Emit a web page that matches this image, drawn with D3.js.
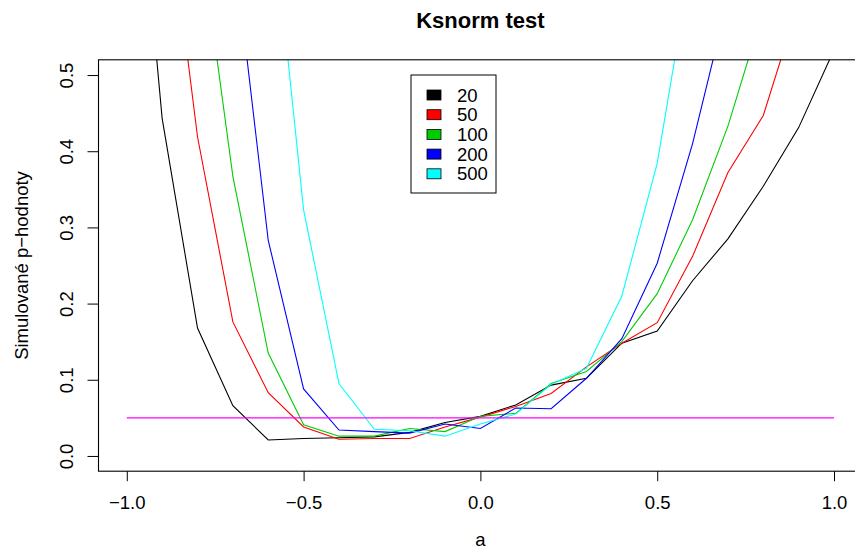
<!DOCTYPE html>
<meta charset="utf-8">
<style>
    body { margin: 0; background: #fff; }
    svg text { font-family: "Liberation Sans", Arial, Helvetica, sans-serif; fill: #000; }
    .axis path, .axis line { stroke: #000; }
</style>
<svg></svg>
<script src="https://d3js.org/d3.v7.min.js"></script>
<script>

    var width = 855,
        height = 550;

    // a = -1.0, -0.9, ..., 1.0
    var aValues = [-1.0, -0.9, -0.8, -0.7, -0.6, -0.5, -0.4, -0.3, -0.2, -0.1, 0.0,
                   0.1, 0.2, 0.3, 0.4, 0.5, 0.6, 0.7, 0.8, 0.9, 1.0];

    var sizes = ["20", "50", "100", "200", "500"];
    var colors = ["#000000", "#ff0000", "#00cd00", "#0000ff", "#00ffff"];

    // simulated p-values for each sample size (values above 0.52 are outside the plot)
    var p20  = [0.95, 0.443, 0.168, 0.066, 0.021, 0.023, 0.024, 0.025, 0.031, 0.044, 0.052,
                0.067, 0.093, 0.102, 0.148, 0.164, 0.230, 0.285, 0.354, 0.431, 0.533];
    var p50  = [0.97, 0.79, 0.419, 0.176, 0.083, 0.038, 0.022, 0.023, 0.023, 0.038, 0.051,
                0.065, 0.082, 0.117, 0.148, 0.175, 0.262, 0.372, 0.447, 0.595, 0.74];
    var p100 = [0.97, 0.90, 0.71, 0.367, 0.135, 0.041, 0.026, 0.026, 0.036, 0.032, 0.052,
                0.056, 0.095, 0.111, 0.150, 0.213, 0.310, 0.433, 0.585, 0.75, 0.88];
    var p200 = [0.99, 0.95, 0.87, 0.68, 0.283, 0.088, 0.034, 0.032, 0.030, 0.042, 0.036,
                0.063, 0.062, 0.102, 0.154, 0.253, 0.410, 0.60, 0.78, 0.90, 0.96];
    var p500 = [1.0, 0.99, 0.97, 0.92, 0.77, 0.323, 0.095, 0.035, 0.033, 0.026, 0.042,
                0.055, 0.094, 0.115, 0.210, 0.384, 0.66, 0.88, 0.97, 0.99, 1.0];
    var series = [p20, p50, p100, p200, p500];

    var alpha = 0.05;
    var alphaRange = [-1, 1];

    var xTicks = [-1.0, -0.5, 0.0, 0.5, 1.0];
    var yTicks = [0.0, 0.1, 0.2, 0.3, 0.4, 0.5];

    // plot region (right edge falls just outside the picture)
    var pLeft = 98.5, pRight = 862.3, pTop = 59.8, pBottom = 471.2;

    var svg = d3.select("svg")
        .attr("width", width)
        .attr("height", height);

    var x = d3.scaleLinear().domain([-1.08, 1.08]).range([pLeft, pRight]);
    var y = d3.scaleLinear().domain([-0.02, 0.52]).range([pBottom, pTop]);

    svg.append("clipPath").attr("id", "plotclip")
        .append("rect")
        .attr("x", pLeft).attr("y", pTop)
        .attr("width", pRight - pLeft).attr("height", pBottom - pTop);

    var plot = svg.append("g").attr("clip-path", "url(#plotclip)");

    var line = d3.line()
        .x(function (d, i) { return x(aValues[i]); })
        .y(function (d) { return y(d); });

    plot.selectAll(".series")
        .data(series)
        .enter().append("path")
        .attr("class", "series")
        .attr("d", line)
        .attr("fill", "none")
        .attr("stroke", function (d, i) { return colors[i]; })
        .attr("stroke-width", 1.1);

    plot.append("line")
        .attr("x1", x(alphaRange[0])).attr("x2", x(alphaRange[1]))
        .attr("y1", y(alpha)).attr("y2", y(alpha))
        .attr("stroke", "#ff00ff")
        .attr("stroke-width", 1.1);

    // box
    svg.append("rect")
        .attr("x", pLeft).attr("y", pTop)
        .attr("width", pRight - pLeft).attr("height", pBottom - pTop)
        .attr("fill", "none")
        .attr("stroke", "#000")
        .attr("stroke-width", 1.1);

    var fmt = d3.format(".1f");

    var xAxis = svg.append("g")
        .attr("class", "axis")
        .attr("transform", "translate(0," + pBottom + ")")
        .call(d3.axisBottom(x).tickValues(xTicks).tickSize(10).tickFormat(fmt));
    xAxis.select(".domain").remove();
    xAxis.selectAll("text")
        .style("font-size", "18.5px")
        .attr("y", 37.5)
        .attr("dy", 0);

    var yAxis = svg.append("g")
        .attr("class", "axis")
        .attr("transform", "translate(" + pLeft + ",0)")
        .call(d3.axisLeft(y).tickValues(yTicks).tickSize(11).tickFormat(fmt));
    yAxis.select(".domain").remove();
    yAxis.selectAll("text")
        .style("font-size", "18.5px")
        .attr("text-anchor", "middle")
        .attr("x", 0).attr("y", 0).attr("dy", 0)
        .attr("transform", "translate(-26,0) rotate(-90)");

    svg.append("text")
        .attr("x", (x(-1) + x(1)) / 2).attr("y", 28)
        .attr("text-anchor", "middle")
        .style("font-size", "22px")
        .style("font-weight", "bold")
        .text("Ksnorm test");

    svg.append("text")
        .attr("x", (x(-1) + x(1)) / 2).attr("y", 546)
        .attr("text-anchor", "middle")
        .style("font-size", "18.5px")
        .text("a");

    svg.append("text")
        .attr("transform", "translate(28," + ((pTop + pBottom) / 2) + ") rotate(-90)")
        .attr("text-anchor", "middle")
        .style("font-size", "18.5px")
        .text("Simulované p\u2212hodnoty");

    // legend
    var legend = svg.append("g").attr("transform", "translate(411,75)");
    legend.append("rect")
        .attr("width", 85).attr("height", 118)
        .attr("fill", "#fff").attr("stroke", "#000").attr("stroke-width", 1);
    var item = legend.selectAll(".item")
        .data(sizes)
        .enter().append("g")
        .attr("class", "item")
        .attr("transform", function (d, i) { return "translate(0," + (20 + i * 19.7) + ")"; });
    item.append("rect")
        .attr("x", 16).attr("y", -5)
        .attr("width", 14).attr("height", 10)
        .attr("fill", function (d, i) { return colors[i]; })
        .attr("stroke", "#000").attr("stroke-width", 0.8);
    item.append("text")
        .attr("x", 46).attr("dy", "0.36em")
        .style("font-size", "18.5px")
        .text(function (d) { return d; });

</script>
